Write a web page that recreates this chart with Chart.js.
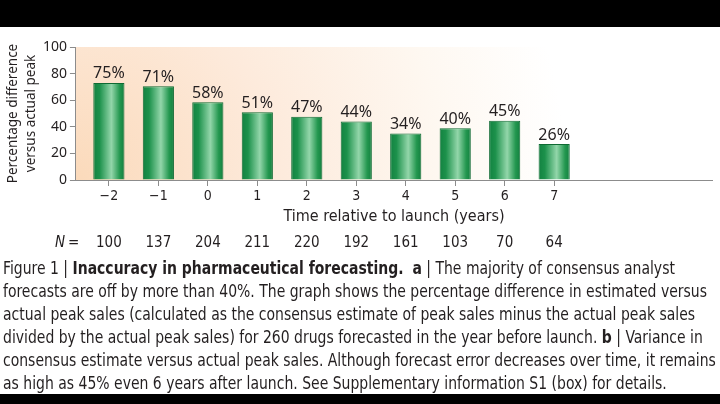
<!DOCTYPE html>
<html>
<head>
<meta charset="utf-8">
<script src="https://cdn.jsdelivr.net/npm/chart.js@4/dist/chart.umd.min.js"></script>
<style>
body { margin: 0; width: 720px; height: 404px; background: #000; overflow: hidden; }
#page { position: absolute; top: 27px; left: 0; width: 720px; height: 367px; background: #fff; overflow: hidden; }
#chartBox { position: absolute; top: 0; left: 0; width: 720px; height: 233px; }
#caption { position: absolute; top: 229px; left: 3px; font-family: "Liberation Sans Narrow", "DejaVu Sans Condensed", sans-serif;
  font-size: 18px; line-height: 23px; color: #231f20; white-space: nowrap; transform-origin: 0 0; }
</style>
</head>
<body>
<div id="page">
  <div id="chartBox"><canvas id="forecastChart"></canvas></div>
  <div id="caption">
    Figure 1 | <b>Inaccuracy in pharmaceutical forecasting.</b>&nbsp; <b>a</b> | The majority of consensus analyst<br>
    <span id="longLine">forecasts are off by more than 40%. The graph shows the percentage difference in estimated versus</span><br>
    actual peak sales (calculated as the consensus estimate of peak sales minus the actual peak sales<br>
    divided by the actual peak sales) for 260 drugs forecasted in the year before launch. <b>b</b> | Variance in<br>
    consensus estimate versus actual peak sales. Although forecast error decreases over time, it remains<br>
    as high as 45% even 6 years after launch. See Supplementary information S1 (box) for details.
  </div>
</div>
<script>
var years = [-2, -1, 0, 1, 2, 3, 4, 5, 6, 7]
var yearLabels = ['\u22122', '\u22121', '0', '1', '2', '3', '4', '5', '6', '7']
var errorValues = [73, 70.5, 58.5, 51, 47.5, 44, 35, 39, 44.5, 27]
var errorLabels = ['75%', '71%', '58%', '51%', '47%', '44%', '34%', '40%', '45%', '26%']
var drugCounts = [100, 137, 204, 211, 220, 192, 161, 103, 70, 64]
var yTicks = [0, 20, 40, 60, 80, 100]

var regularFont = '"Noto Sans", sans-serif'
var narrowFont = '"Liberation Sans Narrow", "DejaVu Sans Condensed", sans-serif'
var xMin = -2.666
var xMax = 10.19
var barShare = 0.63

// squeeze the caption so the long line ends where it does in the figure
var longLine = document.getElementById('longLine')
var squeeze = 704 / longLine.getBoundingClientRect().width
document.getElementById('caption').style.transform = 'scaleX(' + squeeze + ')'

function barGradient(c) {
    var chart = c.chart
    var xs = chart.scales.x
    if (!xs || c.type !== 'data') {
        return '#1f9650'
    }
    var x = xs.getPixelForValue(c.raw.x)
    var half = (xs.getPixelForValue(1) - xs.getPixelForValue(0)) * barShare / 2
    if (!isFinite(x) || !isFinite(half)) {
        return '#1f9650'
    }
    var g = chart.ctx.createLinearGradient(x - half, 0, x + half, 0)
    g.addColorStop(0, '#138241')
    g.addColorStop(0.2, '#1c914b')
    g.addColorStop(0.58, '#93d6aa')
    g.addColorStop(0.85, '#23974f')
    g.addColorStop(1, '#137f3f')
    return g
}

// peach glow behind the bars
var backdrop = {
    id: 'backdrop',
    beforeDraw: function (chart) {
        var a = chart.chartArea
        var ctx = chart.ctx
        var g = ctx.createRadialGradient(a.left, a.bottom, 0, a.left, a.bottom, 490)
        g.addColorStop(0, '#fbdabb')
        g.addColorStop(0.4, '#fdeadb')
        g.addColorStop(0.75, '#fef8f1')
        g.addColorStop(1, '#ffffff')
        ctx.save()
        ctx.fillStyle = g
        ctx.fillRect(a.left, a.top, a.right - a.left, a.bottom - a.top)
        ctx.restore()
    }
}

var barLabels = {
    id: 'barLabels',
    afterDatasetsDraw: function (chart) {
        var ctx = chart.ctx
        ctx.save()
        ctx.font = '16px ' + regularFont
        ctx.fillStyle = '#231f20'
        ctx.textAlign = 'center'
        ctx.textBaseline = 'middle'
        chart.getDatasetMeta(0).data.forEach(function (bar, i) {
            ctx.fillText(errorLabels[i], bar.x, bar.y - 9)
        })
        ctx.restore()
    }
}

var nLabel = {
    id: 'nLabel',
    afterDraw: function (chart) {
        var s = chart.scales.x2
        var y = (s.top + s.bottom) / 2
        var ctx = chart.ctx
        ctx.save()
        ctx.fillStyle = '#231f20'
        ctx.textBaseline = 'middle'
        ctx.textAlign = 'left'
        ctx.font = 'italic 15px ' + narrowFont
        ctx.fillText('N', 55, y)
        var w = ctx.measureText('N').width
        ctx.font = '15px ' + narrowFont
        ctx.fillText('=', 58 + w, y)
        ctx.restore()
    }
}

function setTicks(values) {
    return function (scale) {
        scale.ticks = values.map(function (v) { return { value: v } })
    }
}

new Chart(document.getElementById('forecastChart'), {
    type: 'bar',
    data: {
        datasets: [{
            data: years.map(function (x, i) { return { x: x, y: errorValues[i] } }),
            backgroundColor: barGradient,
            borderColor: '#0f6a33',
            borderWidth: 1,
            categoryPercentage: 1,
            barPercentage: barShare
        }]
    },
    options: {
        responsive: true,
        maintainAspectRatio: false,
        animation: false,
        layout: { padding: { top: 20, right: 8, bottom: 4, left: 0 } },
        plugins: { legend: { display: false }, tooltip: { enabled: false } },
        scales: {
            x: {
                type: 'linear',
                offset: false,
                min: xMin,
                max: xMax,
                afterBuildTicks: setTicks(years),
                ticks: {
                    padding: 2,
                    color: '#231f20',
                    font: { family: narrowFont, size: 14 },
                    callback: function (v) { return yearLabels[years.indexOf(v)] }
                },
                grid: { offset: false, drawOnChartArea: false, tickLength: 6, color: '#8c8c8c' },
                border: { color: '#8c8c8c', width: 1 },
                title: {
                    display: true,
                    text: 'Time relative to launch (years)',
                    color: '#231f20',
                    font: { family: narrowFont, size: 16 },
                    padding: { top: 0, bottom: 4 }
                }
            },
            x2: {
                type: 'linear',
                position: 'bottom',
                offset: false,
                min: xMin,
                max: xMax,
                afterBuildTicks: setTicks(years),
                ticks: {
                    padding: 4,
                    color: '#231f20',
                    font: { family: narrowFont, size: 15 },
                    callback: function (v) { return String(drugCounts[years.indexOf(v)]) }
                },
                grid: { display: false, drawTicks: false },
                border: { display: false }
            },
            y: {
                min: 0,
                max: 100,
                afterBuildTicks: setTicks(yTicks),
                ticks: {
                    padding: 3,
                    color: '#231f20',
                    font: { family: regularFont, size: 14 }
                },
                grid: { drawOnChartArea: false, tickLength: 6, color: '#8c8c8c' },
                border: { color: '#8c8c8c', width: 1 },
                title: {
                    display: true,
                    text: ['Percentage difference', 'versus actual peak'],
                    color: '#231f20',
                    font: { family: regularFont, size: 13.5, lineHeight: 1.33 },
                    padding: { top: 4, bottom: 0 }
                }
            }
        }
    },
    plugins: [backdrop, barLabels, nLabel]
})
</script>
</body>
</html>
